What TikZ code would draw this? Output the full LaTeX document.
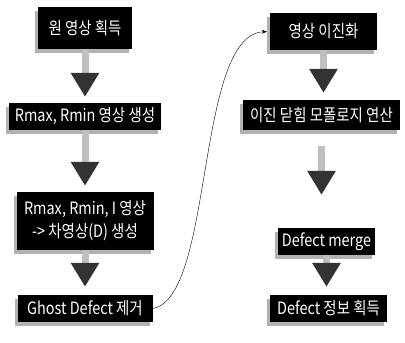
\documentclass[tikz,border=0pt]{standalone}
\usepackage{fontspec}
\setmainfont[FakeStretch=0.85]{Noto Sans CJK KR}
\usetikzlibrary{arrows.meta,shadows}

\begin{document}
\begin{tikzpicture}[auto,
  flow node/.style={fill=black,text=white,inner sep=2pt,align=center,
    font=\fontsize{17}{23}\selectfont,
    drop shadow={shadow xshift=-3pt,shadow yshift=-4pt,fill=gray!60,opacity=1}},
  flow/.style={line width=7pt,gray!50,shorten >=6pt,
    -{Triangle[width=27pt,length=24pt,color=black!80,fill=black!80]}},
  jump/.style={thin,black,shorten >=3pt,-{Stealth[length=5pt,width=4pt]}}]

 \useasboundingbox (0,0) rectangle (405pt,-343pt);

 % left column
 \node[flow node,minimum width=94pt,minimum height=42pt] (raw) at (85pt,-28pt) {원 영상 획득};
 \node[flow node,minimum width=152pt,minimum height=27pt] (rmax) [below of=raw,node distance=88.5pt] {Rmax, Rmin 영상 생성};
 \node[flow node,minimum width=137pt,minimum height=58pt] (diff) [below of=rmax,node distance=104.5pt] {Rmax, Rmin, I 영상\\-> 차영상(D) 생성};
 \node[flow node,minimum width=135pt,minimum height=27pt] (ghost) [below of=diff,node distance=87.5pt] {Ghost Defect 제거};

 % right column
 \node[flow node,minimum width=107pt,minimum height=37pt] (binar) at (323.5pt,-31.5pt) {영상 이진화};
 \node[flow node,minimum width=157pt,minimum height=30pt] (close) [below of=binar,node distance=83.5pt,xshift=-2pt] {이진 닫힘 모폴로지 연산};
 \node[flow node,minimum width=97pt,minimum height=27pt] (merge) [below of=close,node distance=126.5pt,xshift=5pt] {Defect merge};
 \node[flow node,minimum width=117pt,minimum height=27pt] (info) [below of=merge,node distance=67pt,xshift=2pt] {Defect 정보 획득};

 \path[flow]
    (raw)   edge (rmax)
    (rmax)  edge (diff)
    (diff)  edge [shorten >=8pt] (ghost)
    (binar) edge [shorten >=7pt] (binar |- close.north)
    (close) edge [shorten <=16pt,shorten >=33pt] (close |- merge.north)
    (merge) edge [shorten >=8pt] (merge |- info.north);

 \draw[jump] (ghost.east) .. controls +(62pt,11pt) and +(-75pt,-3pt) .. (binar.west);

\end{tikzpicture}
\end{document}
